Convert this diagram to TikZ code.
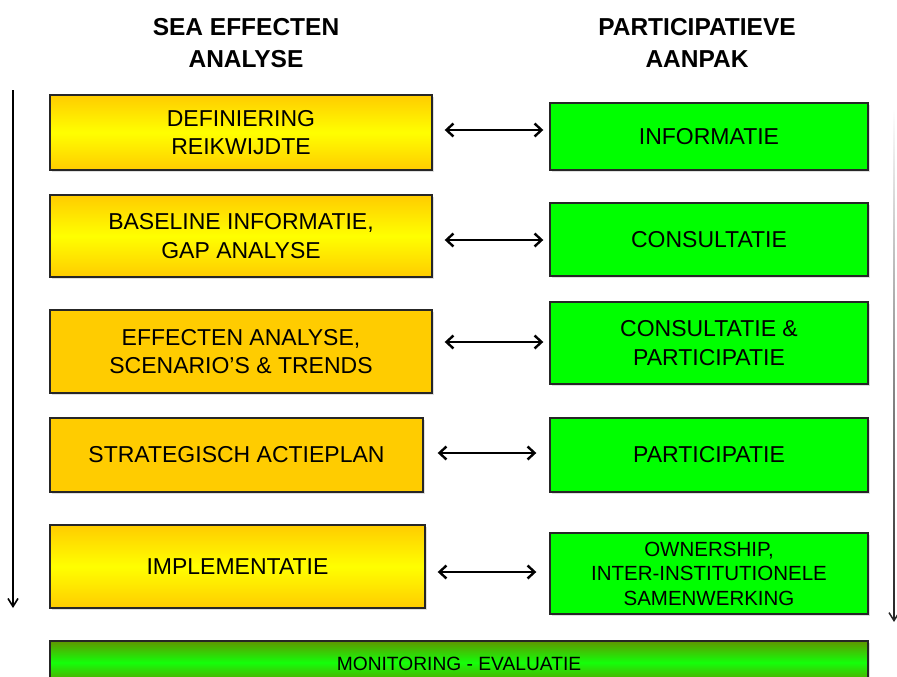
\documentclass[tikz,border=0pt]{standalone}
\usepackage{fontspec}
\setmainfont{Liberation Sans}
\usetikzlibrary{arrows.meta,shadows}

\definecolor{oranjegeel}{RGB}{255,204,0}
\definecolor{felgeel}{RGB}{255,255,0}
\definecolor{felgroen}{RGB}{0,255,0}
\definecolor{olijf}{RGB}{96,150,0}
\definecolor{balkgroen}{RGB}{20,255,10}

\tikzset{
  stap/.style={draw=black!85, line width=1.4pt, align=center, inner sep=0pt,
    font=\fontsize{23}{28.5}\selectfont,
    drop shadow={opacity=0.25, shadow xshift=1.5pt, shadow yshift=-1.5pt}},
  geel/.style={stap, fill=oranjegeel},
  geelverloop/.style={stap, top color=oranjegeel, bottom color=oranjegeel, middle color=felgeel},
  groen/.style={stap, fill=felgroen},
  kop/.style={align=center, font=\bfseries\fontsize{24.5}{31.5}\selectfont},
  tweepijl/.style={line width=2.4pt,
    {Straight Barb[length=7pt,width=13pt]}-{Straight Barb[length=7pt,width=13pt]}},
  pijl/.style={line width=1.6pt, -{Straight Barb[length=8pt,width=10pt]}}
}

\begin{document}
\begin{tikzpicture}[x=1pt, y=-1pt]
\useasboundingbox (0,0) rectangle (897,677);
\clip (0,0) rectangle (897,677);

    % kolomkoppen
    \node [kop] (koplinks) at (246,43) {SEA EFFECTEN\\ANALYSE};
    \node [kop] (koprechts) at (697,43) {PARTICIPATIEVE\\AANPAK};

    % linker kolom: SEA stappen
    \node [geelverloop, minimum width=382pt, minimum height=75pt] (sea1) at (241,132.5)
        {DEFINIERING\\REIKWIJDTE};
    \node [geelverloop, minimum width=382pt, minimum height=82pt] (sea2) at (241,236)
        {BASELINE INFORMATIE,\\GAP ANALYSE};
    \node [geel, minimum width=382pt, minimum height=83pt] (sea3) at (241,351.5)
        {EFFECTEN ANALYSE,\\SCENARIO’S \& TRENDS};
    \node [geel, minimum width=373pt, minimum height=74pt] (sea4) at (236.5,455)
        {STRATEGISCH ACTIEPLAN};
    \node [geelverloop, minimum width=375pt, minimum height=83pt] (sea5) at (237.5,566.5)
        {IMPLEMENTATIE};

    % rechter kolom: participatie
    \node [groen, minimum width=318pt, minimum height=67pt] (part1) at (709,136.5) {INFORMATIE};
    \node [groen, minimum width=318pt, minimum height=73pt] (part2) at (709,239.5) {CONSULTATIE};
    \node [groen, minimum width=318pt, minimum height=82pt] (part3) at (709,343)
        {CONSULTATIE \&\\PARTICIPATIE};
    \node [groen, minimum width=318pt, minimum height=74pt] (part4) at (709,455) {PARTICIPATIE};
    \node [groen, minimum width=318pt, minimum height=81pt, font=\fontsize{20.5}{24.5}\selectfont]
        (part5) at (709,573.5) {OWNERSHIP,\\INTER-INSTITUTIONELE\\SAMENWERKING};

    % balk onderaan
    \node [stap, top color=olijf, bottom color=olijf, middle color=balkgroen,
        minimum width=818pt, minimum height=43pt, font=\fontsize{19.2}{23}\selectfont,
        text depth=0pt] (monitor) at (459,662.5) {\raisebox{-2pt}{MONITORING - EVALUATIE}};

    % dubbele pijlen tussen de kolommen
    \draw [tweepijl] ([xshift=12pt,yshift=2.5pt]sea1.east) -- ([xshift=-6pt,yshift=2.5pt]sea1.east -| part1.west);
    \draw [tweepijl] ([xshift=12pt,yshift=-4pt]sea2.east) -- ([xshift=-6pt,yshift=-4pt]sea2.east -| part2.west);
    \draw [tweepijl] ([xshift=12pt,yshift=9.5pt]sea3.east) -- ([xshift=-6pt,yshift=9.5pt]sea3.east -| part3.west);
    \draw [tweepijl] ([xshift=14pt,yshift=2pt]sea4.east) -- ([xshift=-13pt,yshift=2pt]sea4.east -| part4.west);
    \draw [tweepijl] ([xshift=12pt,yshift=-5.5pt]sea5.east) -- ([xshift=-13pt,yshift=-5.5pt]sea5.east -| part5.west);

    % tijdas links
    \coordinate (ltop) at (13,90);
    \coordinate (lbot) at (13,608);
    \draw [pijl] (ltop) -- (lbot);

    % vervagende pijl rechts
    \coordinate (rtop) at (894,108);
    \coordinate (rbot) at (894,622);
    \shade [top color=white, bottom color=black!85]
        ([xshift=-0.9pt]rtop) rectangle ([xshift=0.9pt,yshift=8pt]rbot);
    \draw [pijl, line width=1.5pt, black!85] ([yshift=9pt]rbot) -- (rbot);

\end{tikzpicture}
\end{document}
